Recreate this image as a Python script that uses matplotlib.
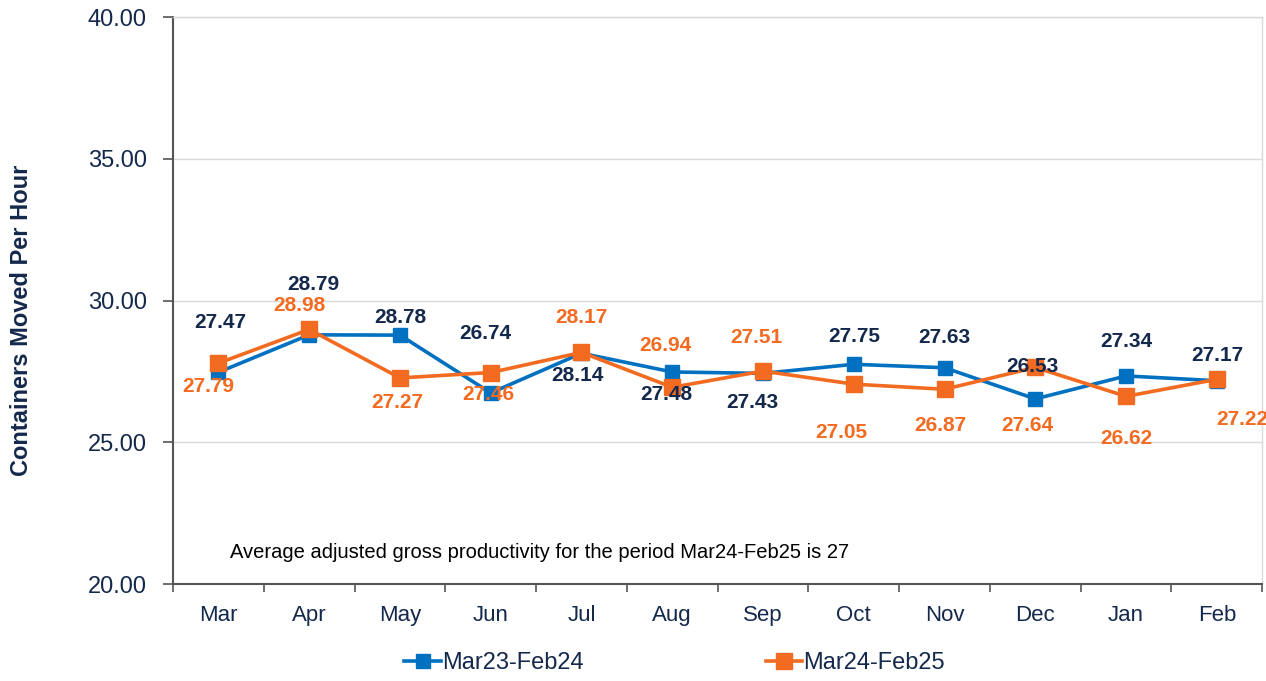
import numpy as np
import matplotlib.pyplot as plt
from matplotlib.lines import Line2D

plt.rcParams['font.family'] = ['Liberation Sans', 'DejaVu Sans']

# data
months = ["Mar", "Apr", "May", "Jun", "Jul", "Aug", "Sep", "Oct", "Nov", "Dec", "Jan", "Feb"]
prev_year = [27.47, 28.79, 28.78, 26.74, 28.14, 27.48, 27.43, 27.75, 27.63, 26.53, 27.34, 27.17]
curr_year = [27.79, 28.98, 27.27, 27.46, 28.17, 26.94, 27.51, 27.05, 26.87, 27.64, 26.62, 27.22]
series_names = ["Mar23-Feb24", "Mar24-Feb25"]
note = "Average adjusted gross productivity for the period Mar24-Feb25 is 27"

# label offsets in points (dx, dy) from each marker
prev_off = [(1, 36), (3, 36), (0, 13), (-4, 43), (-3, -16), (-4, -16), (-8, -21),
            (0, 20), (0, 22), (-2, 23), (0, 25), (0, 18)]
curr_off = [(-7, -17), (-7, 17), (-2, -18), (-2, -16), (0, 25), (-5, 30), (-5, 24),
            (-9, -35), (-3, -26), (-6, -42), (0, -30), (18, -29)]

BLUE = "#0070C0"
ORANGE = "#F26B21"
NAVY = "#13284B"

fig = plt.figure(figsize=(12.66, 6.81), dpi=100)
ax = fig.add_axes([0.1367, 0.1424, 0.8603, 0.8326])

x = np.arange(len(months))
ax.plot(x, prev_year, color=BLUE, lw=2.6, marker="s", ms=9.5, zorder=3)
ax.plot(x, curr_year, color=ORANGE, lw=2.6, marker="s", ms=11, zorder=4)

for xi, v, (dx, dy) in zip(x, prev_year, prev_off):
    ax.annotate(f"{v:.2f}", (xi, v), xytext=(dx, dy), textcoords="offset points",
                ha="center", va="center", fontsize=15, fontweight="bold", color=NAVY, zorder=5)
for xi, v, (dx, dy) in zip(x, curr_year, curr_off):
    ax.annotate(f"{v:.2f}", (xi, v), xytext=(dx, dy), textcoords="offset points",
                ha="center", va="center", fontsize=15, fontweight="bold", color=ORANGE, zorder=5)

ax.set_xlim(-0.5, len(months) - 0.5)
ax.set_ylim(20, 40)
ax.set_yticks([20, 25, 30, 35, 40])
ax.set_yticklabels([f"{t:.2f}" for t in [20, 25, 30, 35, 40]])
ax.set_xticks(x)
ax.set_xticklabels(months)
ax.set_xticks(np.arange(-0.5, len(months)), minor=True)
ax.tick_params(axis="x", which="major", length=0, pad=15, labelsize=16, labelcolor=NAVY)
ax.tick_params(axis="x", which="minor", length=6, width=1.2, color="#555555")
ax.tick_params(axis="y", length=7, width=1.2, color="#555555", labelsize=17, labelcolor=NAVY, pad=12)

ax.grid(axis="y", color="#d9d9d9", lw=1)
ax.set_axisbelow(True)
for side in ["left", "bottom"]:
    ax.spines[side].set_color("#555555")
    ax.spines[side].set_linewidth(1.5)
for side in ["top", "right"]:
    ax.spines[side].set_color("#d9d9d9")
    ax.spines[side].set_linewidth(1)

fig.text(0.017, 0.53, "Containers Moved Per Hour", rotation=90, ha="center", va="center",
         fontsize=17, fontweight="bold", color=NAVY)

ax.text(0.052, 0.056, note, transform=ax.transAxes, fontsize=14.5, color="black",
        ha="left", va="center")

handles = [Line2D([0], [0], color=BLUE, lw=2.6, marker="s", ms=9.5),
           Line2D([0], [0], color=ORANGE, lw=2.6, marker="s", ms=11)]
fig.legend(handles, series_names, loc="center", bbox_to_anchor=(0.533, 0.026), ncol=2,
           frameon=False, fontsize=17, handlelength=1.55, handletextpad=0.05,
           columnspacing=7.7, labelcolor=NAVY)

fig.savefig("out.png", dpi=100)
